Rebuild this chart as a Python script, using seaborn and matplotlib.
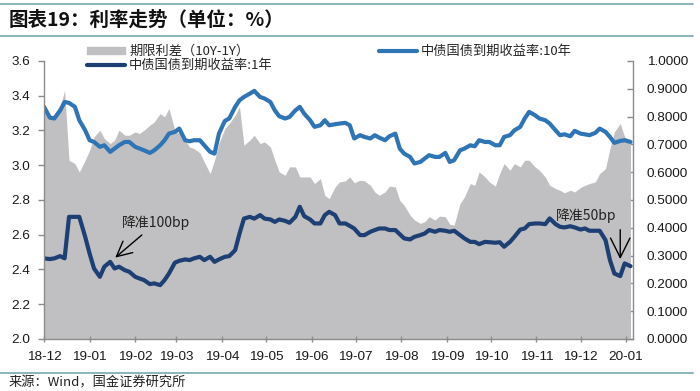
import pandas as pd
import matplotlib
matplotlib.use("Agg")
import matplotlib.pyplot as plt
import matplotlib.dates as mdates
from matplotlib.ticker import FormatStrFormatter
from matplotlib.patches import Patch
from matplotlib.lines import Line2D
import seaborn as sns


# values (roughly every 3-4 days)
dates = [
    "2018-12-01", "2018-12-05", "2018-12-08", "2018-12-12", "2018-12-15", "2018-12-18",
    "2018-12-22", "2018-12-25", "2018-12-29", "2019-01-01", "2019-01-04", "2019-01-08",
    "2019-01-11", "2019-01-15", "2019-01-18", "2019-01-21", "2019-01-25", "2019-01-28",
    "2019-02-01", "2019-02-04", "2019-02-07", "2019-02-11", "2019-02-14", "2019-02-18",
    "2019-02-21", "2019-02-24", "2019-02-28", "2019-03-03", "2019-03-07", "2019-03-10",
    "2019-03-13", "2019-03-17", "2019-03-20", "2019-03-24", "2019-03-27", "2019-03-30",
    "2019-04-03", "2019-04-06", "2019-04-10", "2019-04-13", "2019-04-16", "2019-04-20",
    "2019-04-23", "2019-04-27", "2019-04-30", "2019-05-04", "2019-05-07", "2019-05-10",
    "2019-05-14", "2019-05-17", "2019-05-21", "2019-05-24", "2019-05-27", "2019-05-31",
    "2019-06-03", "2019-06-07", "2019-06-10", "2019-06-13", "2019-06-17", "2019-06-20",
    "2019-06-24", "2019-06-27", "2019-06-30", "2019-07-04", "2019-07-07", "2019-07-11",
    "2019-07-14", "2019-07-17", "2019-07-21", "2019-07-24", "2019-07-28", "2019-07-31",
    "2019-08-03", "2019-08-07", "2019-08-10", "2019-08-14", "2019-08-17", "2019-08-20",
    "2019-08-24", "2019-08-27", "2019-08-31", "2019-09-03", "2019-09-06", "2019-09-10",
    "2019-09-13", "2019-09-17", "2019-09-20", "2019-09-23", "2019-09-27", "2019-09-30",
    "2019-10-04", "2019-10-07", "2019-10-10", "2019-10-14", "2019-10-17", "2019-10-21",
    "2019-10-24", "2019-10-27", "2019-10-31", "2019-11-03", "2019-11-07", "2019-11-10",
    "2019-11-14", "2019-11-17", "2019-11-20", "2019-11-24", "2019-11-27", "2019-12-01",
    "2019-12-04", "2019-12-07", "2019-12-11", "2019-12-14", "2019-12-18", "2019-12-21",
    "2019-12-24", "2019-12-28", "2019-12-31", "2020-01-04",
]

yield_10y = [
    3.336, 3.274, 3.269, 3.316, 3.364, 3.359, 3.336, 3.259, 3.201, 3.144, 3.134, 3.106,
    3.115, 3.077, 3.096, 3.115, 3.134, 3.134, 3.106, 3.096, 3.086, 3.071, 3.086, 3.115,
    3.144, 3.182, 3.192, 3.211, 3.144, 3.138, 3.144, 3.144, 3.115, 3.077, 3.067, 3.182,
    3.255, 3.269, 3.336, 3.374, 3.393, 3.412, 3.428, 3.393, 3.384, 3.364, 3.316, 3.282,
    3.269, 3.278, 3.316, 3.336, 3.297, 3.259, 3.221, 3.230, 3.259, 3.230, 3.236, 3.240,
    3.244, 3.230, 3.154, 3.173, 3.163, 3.154, 3.173, 3.159, 3.144, 3.167, 3.182, 3.096,
    3.067, 3.048, 3.010, 3.019, 3.039, 3.058, 3.048, 3.048, 3.071, 3.019, 3.029, 3.086,
    3.096, 3.115, 3.109, 3.144, 3.134, 3.134, 3.115, 3.115, 3.163, 3.173, 3.201, 3.221,
    3.269, 3.307, 3.288, 3.269, 3.259, 3.240, 3.201, 3.173, 3.178, 3.167, 3.198, 3.182,
    3.178, 3.173, 3.186, 3.211, 3.192, 3.163, 3.129, 3.140, 3.144, 3.134,
]

yield_1y = [
    2.464, 2.460, 2.464, 2.477, 2.464, 2.703, 2.703, 2.703, 2.588, 2.492, 2.406, 2.358,
    2.416, 2.444, 2.406, 2.416, 2.396, 2.387, 2.358, 2.348, 2.339, 2.316, 2.320, 2.310,
    2.339, 2.377, 2.439, 2.450, 2.458, 2.454, 2.464, 2.473, 2.454, 2.473, 2.444, 2.458,
    2.473, 2.477, 2.511, 2.607, 2.693, 2.703, 2.693, 2.713, 2.693, 2.688, 2.674, 2.688,
    2.680, 2.669, 2.703, 2.761, 2.707, 2.688, 2.665, 2.665, 2.713, 2.732, 2.713, 2.665,
    2.665, 2.651, 2.636, 2.598, 2.598, 2.617, 2.627, 2.636, 2.636, 2.627, 2.627, 2.603,
    2.579, 2.573, 2.588, 2.598, 2.607, 2.627, 2.617, 2.627, 2.623, 2.617, 2.623, 2.598,
    2.579, 2.559, 2.559, 2.546, 2.559, 2.557, 2.554, 2.557, 2.531, 2.559, 2.588, 2.630,
    2.636, 2.661, 2.665, 2.665, 2.661, 2.694, 2.661, 2.646, 2.642, 2.649, 2.642, 2.630,
    2.636, 2.623, 2.623, 2.623, 2.569, 2.454, 2.377, 2.362, 2.435, 2.419,
]

term_spread = [
    0.847, 0.805, 0.805, 0.835, 0.895, 0.643, 0.631, 0.601, 0.643, 0.679, 0.727, 0.751,
    0.721, 0.703, 0.715, 0.751, 0.733, 0.733, 0.745, 0.739, 0.751, 0.769, 0.781, 0.811,
    0.799, 0.829, 0.751, 0.739, 0.715, 0.691, 0.685, 0.670, 0.637, 0.595, 0.643, 0.703,
    0.757, 0.775, 0.805, 0.835, 0.697, 0.715, 0.733, 0.703, 0.709, 0.691, 0.643, 0.601,
    0.589, 0.619, 0.619, 0.583, 0.583, 0.583, 0.559, 0.577, 0.517, 0.505, 0.547, 0.565,
    0.569, 0.583, 0.562, 0.571, 0.569, 0.553, 0.529, 0.517, 0.529, 0.550, 0.547, 0.499,
    0.481, 0.446, 0.428, 0.416, 0.422, 0.440, 0.428, 0.442, 0.440, 0.413, 0.410, 0.487,
    0.511, 0.559, 0.553, 0.601, 0.583, 0.565, 0.550, 0.595, 0.631, 0.607, 0.631, 0.619,
    0.643, 0.643, 0.619, 0.607, 0.583, 0.553, 0.541, 0.535, 0.526, 0.535, 0.529, 0.545,
    0.553, 0.559, 0.565, 0.595, 0.613, 0.685, 0.745, 0.775, 0.727, 0.709,
]

month_ticks = pd.date_range("2018-12-01", "2020-01-01", freq="MS")
left_ticks = [2.0, 2.2, 2.4, 2.6, 2.8, 3.0, 3.2, 3.4, 3.6]
right_ticks = [0.0, 0.1, 0.2, 0.3, 0.4, 0.5, 0.6, 0.7, 0.8, 0.9, 1.0]

LABEL_SPREAD = "期限利差（10Y-1Y）"
LABEL_1Y = "中债国债到期收益率:1年"
LABEL_10Y = "中债国债到期收益率:10年"

COLOR_10Y = "#2f74b5"
COLOR_1Y = "#1e3f73"
COLOR_SPREAD = "#c0c0c2"
COLOR_RULE = "#7fb1b3"
COLOR_SPINE = "#8c8c8c"

CJK = ["Noto Sans CJK SC", "DejaVu Sans"]


def build_frame() -> pd.DataFrame:
    return pd.DataFrame({
        "date": pd.to_datetime(dates),
        "ten": yield_10y,
        "one": yield_1y,
        "spread": term_spread,
    })


def main() -> None:
    df = build_frame()

    sns.set_theme(style="white")
    plt.rcParams["font.family"] = ["Liberation Sans", "Noto Sans CJK SC"]

    fig = plt.figure(figsize=(7, 3.91), dpi=100)
    ax = fig.add_axes([0.0629, 0.133, 0.841, 0.711])
    ax2 = ax.twinx()

    # spread as grey area on the right axis, yields on top
    ax2.fill_between(df["date"], 0, df["spread"], color=COLOR_SPREAD, lw=0)
    sns.lineplot(data=df, x="date", y="ten", ax=ax, color=COLOR_10Y, lw=3.0)
    sns.lineplot(data=df, x="date", y="one", ax=ax, color=COLOR_1Y, lw=3.0)
    ax.set_zorder(ax2.get_zorder() + 1)
    ax.patch.set_visible(False)

    ax.set_xlim(pd.Timestamp("2018-12-01"), pd.Timestamp("2020-01-05 12:00"))
    ax.set_ylim(2.0, 3.6)
    ax2.set_ylim(0, 1.0)
    ax.set_xticks(month_ticks)
    ax.xaxis.set_major_formatter(mdates.DateFormatter("%y-%m"))
    ax.set_yticks(left_ticks)
    ax2.set_yticks(right_ticks)
    ax.yaxis.set_major_formatter(FormatStrFormatter("%.1f"))
    ax2.yaxis.set_major_formatter(FormatStrFormatter("%.4f"))
    ax.set_xlabel("")
    ax.set_ylabel("")

    for a in (ax, ax2):
        for side in ("top", "left", "right", "bottom"):
            a.spines[side].set_visible(False)
    ax.spines["left"].set_visible(True)
    ax.spines["bottom"].set_visible(True)
    ax2.spines["right"].set_visible(True)
    for sp in (ax.spines["left"], ax.spines["bottom"], ax2.spines["right"]):
        sp.set_color(COLOR_SPINE)
        sp.set_linewidth(1.0)

    ax.tick_params(axis="y", direction="out", length=4, width=1, color=COLOR_SPINE,
                   labelsize=9.7, labelcolor="#1a1a1a", pad=6, left=True)
    ax.tick_params(axis="x", direction="inout", length=5, width=1, color=COLOR_SPINE,
                   labelsize=9.7, labelcolor="#1a1a1a", pad=6, bottom=True)
    ax2.tick_params(axis="y", direction="in", length=4, width=1, color=COLOR_SPINE,
                    labelsize=9.7, labelcolor="#1a1a1a", pad=10, right=True)

    # annotations
    ax.annotate("", xy=(pd.Timestamp("2019-01-17"), 2.458),
                xytext=(pd.Timestamp("2019-02-07"), 2.609),
                arrowprops=dict(arrowstyle="->,head_length=0.6,head_width=0.3",
                                color="black", lw=1, mutation_scale=18))
    ax.text(pd.Timestamp("2019-02-15"), 2.667, "降准100bp", ha="center", va="center",
            fontsize=10, family=CJK, color="#222222")
    ax.annotate("", xy=(pd.Timestamp("2019-12-28"), 2.444),
                xytext=(pd.Timestamp("2019-12-28"), 2.645),
                arrowprops=dict(arrowstyle="->,head_length=0.7,head_width=0.35",
                                color="black", lw=1, mutation_scale=20))
    ax.text(pd.Timestamp("2019-12-05"), 2.709, "降准50bp", ha="center", va="center",
            fontsize=10, family=CJK, color="#222222")

    # legends
    legend_font = {"family": CJK, "size": 9.5}
    fig.legend(
        handles=[Patch(color=COLOR_SPREAD), Line2D([], [], color=COLOR_1Y, lw=3.0)],
        labels=[LABEL_SPREAD, LABEL_1Y],
        loc="upper left", bbox_to_anchor=(0.124, 0.885), frameon=False, prop=legend_font,
        handlelength=2.9, handleheight=0.4, handletextpad=0.3, labelspacing=0.05,
        borderpad=0, borderaxespad=0,
    )
    fig.legend(
        handles=[Line2D([], [], color=COLOR_10Y, lw=3.0)],
        labels=[LABEL_10Y],
        loc="upper left", bbox_to_anchor=(0.541, 0.885), frameon=False, prop=legend_font,
        handlelength=2.9, handleheight=0.4, handletextpad=0.3,
        borderpad=0, borderaxespad=0,
    )

    # title block and source
    for y in (0.99, 0.908, 0.045):
        fig.add_artist(Line2D([0.0, 0.99], [y, y], transform=fig.transFigure,
                              color=COLOR_RULE, lw=1.3))
    fig.text(0.012, 0.949, "图表19：利率走势（单位：%）", fontsize=14, fontweight="bold",
             fontstyle="italic", family=CJK, va="center", ha="left", color="#111111")
    fig.text(0.012, 0.02, "来源：Wind，国金证券研究所", fontsize=9.5, family=CJK,
             va="center", ha="left", color="#222222")

    fig.savefig("out.png", dpi=100)


if __name__ == "__main__":
    main()
